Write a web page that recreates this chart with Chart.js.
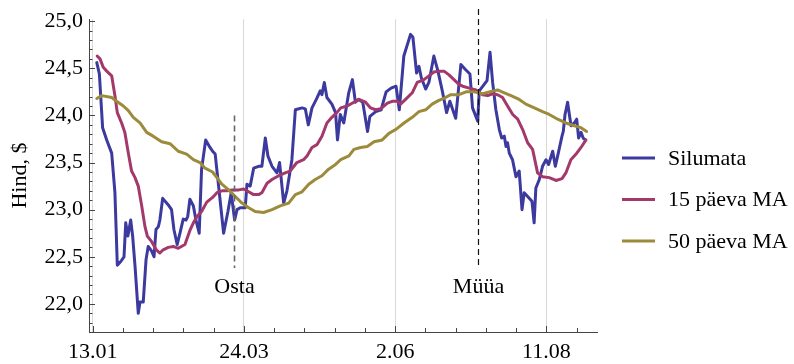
<!DOCTYPE html>
<html>
<head>
<meta charset="utf-8">
<script src="https://cdn.jsdelivr.net/npm/chart.js@4.4.1/dist/chart.umd.min.js"></script>
<style>
  html, body { margin: 0; padding: 0; background: #fff; }
</style>
</head>
<body>
<canvas id="chart" width="794" height="364"></canvas>
<script>
// Päevad alates 13.01 (x) ja hinnad (y), loetud pildilt
const silumataDays = [1.9, 3.1, 4.6, 6.5, 8.8, 10.3, 11.4, 13.0, 14.5, 15.3, 16.3, 17.6, 18.5, 19.6, 21.1, 21.9, 23.4, 24.7, 25.7, 27.3, 28.4, 29.3, 30.4, 31.1, 32.4, 35.0, 36.5, 37.6, 39.1, 40.4, 41.9, 43.2, 44.0, 45.0, 46.6, 47.8, 49.3, 50.4, 52.3, 54.3, 55.5, 56.7, 58.6, 60.6, 62.6, 64.1, 65.7, 66.8, 68.3, 70.6, 71.4, 72.9, 74.5, 76.8, 78.3, 79.9, 81.1, 83.0, 85.3, 86.5, 88.4, 89.9, 92.2, 93.8, 96.9, 98.4, 99.8, 101.5, 103.5, 105.3, 106.1, 107.2, 108.4, 110.7, 112.4, 113.3, 114.6, 116.2, 118.5, 120.2, 121.6, 123.1, 125.0, 127.2, 128.3, 131.0, 133.5, 135.8, 138.1, 140.4, 141.9, 144.0, 147.1, 148.2, 149.9, 151.0, 152.1, 154.1, 155.6, 157.9, 159.8, 161.8, 163.8, 165.3, 168.0, 170.4, 172.4, 174.6, 175.8, 178.2, 178.9, 181.2, 182.5, 183.9, 185.1, 186.6, 188.2, 189.3, 190.5, 191.3, 192.0, 192.8, 194.3, 195.9, 197.4, 198.7, 199.7, 201.3, 203.3, 204.3, 205.1, 206.7, 208.2, 209.8, 211.0, 212.9, 214.1, 215.2, 217.2, 217.8, 218.6, 219.8, 220.6, 221.4, 222.9, 224.0, 224.9, 226.0, 227.0, 228.0];
const silumataValues = [24.56, 24.44, 23.87, 23.74, 23.60, 23.18, 22.41, 22.45, 22.50, 22.86, 22.72, 22.89, 22.72, 22.40, 21.90, 22.02, 22.02, 22.47, 22.61, 22.56, 22.50, 22.79, 22.82, 22.89, 23.12, 23.05, 23.00, 22.79, 22.63, 22.75, 22.90, 22.89, 22.93, 23.11, 23.04, 22.89, 22.75, 23.43, 23.74, 23.66, 23.62, 23.59, 23.18, 22.75, 22.98, 23.18, 22.89, 23.00, 23.02, 23.02, 23.27, 23.25, 23.44, 23.46, 23.46, 23.76, 23.57, 23.46, 23.39, 23.50, 23.07, 23.20, 23.53, 24.06, 24.08, 24.07, 23.90, 24.08, 24.17, 24.26, 24.22, 24.35, 24.19, 24.12, 24.03, 23.74, 24.01, 23.92, 24.24, 24.38, 24.14, 24.17, 24.14, 23.83, 23.99, 24.04, 24.06, 24.25, 24.29, 24.31, 24.06, 24.63, 24.86, 24.83, 24.45, 24.52, 24.40, 24.28, 24.35, 24.63, 24.47, 24.26, 24.03, 24.15, 23.97, 24.54, 24.49, 24.44, 24.08, 23.94, 24.26, 24.33, 24.37, 24.67, 24.35, 24.06, 23.85, 23.76, 23.78, 23.67, 23.71, 23.60, 23.53, 23.35, 23.41, 23.00, 23.18, 23.14, 23.09, 22.86, 23.23, 23.32, 23.46, 23.53, 23.48, 23.62, 23.46, 23.57, 23.78, 23.83, 24.01, 24.14, 24.01, 23.89, 23.92, 23.96, 23.76, 23.82, 23.76, 23.74];

const ma15Days = [2.1, 3.4, 4.9, 6.5, 8.8, 10.3, 11.4, 13.4, 14.9, 16.5, 18.0, 19.6, 21.1, 22.7, 24.2, 25.3, 27.3, 29.6, 31.1, 32.4, 35.0, 37.3, 39.6, 42.7, 45.0, 46.6, 48.4, 50.4, 52.8, 55.5, 57.5, 59.8, 62.1, 64.5, 67.6, 69.9, 72.2, 74.5, 76.8, 78.3, 80.7, 83.0, 86.1, 89.1, 91.4, 94.5, 97.6, 99.2, 101.5, 103.8, 106.1, 108.4, 110.7, 113.0, 114.8, 117.8, 120.9, 123.2, 126.3, 128.6, 130.9, 133.3, 136.4, 138.6, 140.9, 142.5, 144.8, 147.9, 150.2, 153.3, 155.6, 157.9, 160.2, 162.6, 164.9, 167.2, 169.5, 171.2, 174.3, 177.4, 180.5, 182.8, 185.1, 187.4, 189.7, 192.0, 194.4, 196.7, 199.0, 201.3, 203.6, 205.9, 208.2, 211.3, 214.4, 217.2, 219.0, 221.3, 223.7, 226.0, 228.3];
const ma15Values = [24.63, 24.60, 24.51, 24.47, 24.42, 24.21, 24.03, 23.92, 23.82, 23.60, 23.41, 23.34, 23.25, 23.04, 22.82, 22.72, 22.66, 22.57, 22.54, 22.57, 22.60, 22.61, 22.59, 22.63, 22.78, 22.86, 22.93, 22.98, 23.08, 23.13, 23.18, 23.20, 23.20, 23.21, 23.21, 23.22, 23.19, 23.16, 23.16, 23.18, 23.28, 23.32, 23.36, 23.39, 23.41, 23.50, 23.53, 23.57, 23.66, 23.69, 23.78, 23.92, 23.98, 24.03, 24.08, 24.10, 24.14, 24.17, 24.14, 24.08, 24.06, 24.07, 24.13, 24.15, 24.15, 24.12, 24.17, 24.24, 24.35, 24.38, 24.42, 24.46, 24.47, 24.47, 24.43, 24.38, 24.33, 24.31, 24.29, 24.27, 24.22, 24.21, 24.23, 24.22, 24.19, 24.10, 24.01, 23.96, 23.85, 23.71, 23.64, 23.39, 23.35, 23.34, 23.31, 23.33, 23.39, 23.53, 23.59, 23.66, 23.74];

const ma50Days = [1.9, 4.2, 8.8, 11.1, 14.2, 16.5, 18.8, 21.9, 25.0, 28.0, 31.9, 35.8, 39.6, 43.5, 46.6, 49.7, 52.0, 55.5, 57.5, 59.8, 62.9, 66.0, 69.1, 72.2, 75.2, 79.1, 83.0, 86.8, 90.7, 93.8, 96.9, 100.0, 103.0, 106.1, 109.2, 112.4, 114.8, 118.6, 120.9, 124.0, 127.1, 130.2, 134.0, 137.1, 140.2, 144.1, 147.9, 151.0, 154.1, 157.1, 160.2, 163.3, 165.7, 169.5, 172.8, 176.6, 180.5, 183.5, 187.4, 190.5, 193.6, 197.4, 200.5, 204.4, 208.2, 211.3, 215.2, 219.0, 222.9, 226.0, 228.6];
const ma50Values = [24.18, 24.21, 24.19, 24.15, 24.10, 24.05, 23.98, 23.92, 23.82, 23.78, 23.72, 23.70, 23.62, 23.59, 23.53, 23.50, 23.44, 23.40, 23.34, 23.27, 23.21, 23.14, 23.07, 23.02, 22.98, 22.97, 23.00, 23.04, 23.07, 23.16, 23.19, 23.27, 23.32, 23.36, 23.43, 23.48, 23.53, 23.57, 23.64, 23.66, 23.67, 23.72, 23.74, 23.81, 23.85, 23.92, 23.98, 24.04, 24.06, 24.12, 24.16, 24.19, 24.22, 24.22, 24.25, 24.25, 24.23, 24.25, 24.27, 24.24, 24.21, 24.17, 24.12, 24.08, 24.04, 24.01, 23.96, 23.92, 23.89, 23.87, 23.83];

const seriesNames = ['Silumata', '15 päeva MA', '50 päeva MA'];

// Telgede jaotised
const xTickDays = [0, 70, 140, 210];
const xTickLabels = ['13.01', '24.03', '2.06', '11.08'];
const xMinorDays = [0, 14, 28, 42, 56, 70, 84, 98, 112, 126, 140, 154, 168, 182, 196, 210, 224];
const yTickValues = [22.0, 22.5, 23.0, 23.5, 24.0, 24.5, 25.0];
const yMinorValues = [21.8, 21.9, 22.0, 22.1, 22.2, 22.3, 22.4, 22.5, 22.6, 22.7, 22.8, 22.9, 23.0, 23.1, 23.2, 23.3, 23.4, 23.5, 23.6, 23.7, 23.8, 23.9, 24.0, 24.1, 24.2, 24.3, 24.4, 24.5, 24.6, 24.7, 24.8, 24.9, 25.0];

// Ostu/müügi signaalid
const signalDays = [65.2, 178.2];
const signalLabels = ['Osta', 'Müüa'];
const signalTop = [24.0, 25.13];
const signalBottom = [22.38, 22.38];

const BLUE = 'rgb(60, 58, 158)';
const RED = 'rgb(163, 57, 107)';
const GOLD = 'rgb(155, 139, 58)';
const FONT = { family: '"Liberation Serif", "Times New Roman", serif', size: 22 };
const FONT_CSS = '22px "Liberation Serif", "Times New Roman", serif';

function toPoints(days, values) {
    return days.map((d, i) => ({ x: d, y: values[i] }));
}

const overlay = {
    id: 'overlay',
    beforeDatasetsDraw(chart) {
        const { ctx, scales: { x, y } } = chart;
        ctx.save();
        ctx.strokeStyle = '#444';
        ctx.lineWidth = 1;
        // sissepoole suunatud jaotised
        for (const d of xMinorDays) {
            const px = Math.round(x.getPixelForValue(d)) + 0.5;
            const len = xTickDays.includes(d) ? 6 : 4;
            ctx.beginPath();
            ctx.moveTo(px, y.bottom);
            ctx.lineTo(px, y.bottom - len);
            ctx.stroke();
        }
        for (const v of yMinorValues) {
            const py = Math.round(y.getPixelForValue(v)) + 0.5;
            const major = Math.abs(v * 2 - Math.round(v * 2)) < 1e-6;
            ctx.beginPath();
            ctx.moveTo(x.left, py);
            ctx.lineTo(x.left + (major ? 6 : 3.5), py);
            ctx.stroke();
        }
        ctx.restore();
    },
    afterDatasetsDraw(chart) {
        const { ctx, scales: { x, y } } = chart;
        ctx.save();
        signalDays.forEach((d, i) => {
            const px = Math.round(x.getPixelForValue(d)) + 0.5;
            ctx.beginPath();
            ctx.setLineDash([6, 4]);
            ctx.strokeStyle = i === 0 ? '#666' : '#111';
            ctx.lineWidth = i === 0 ? 1.6 : 1.2;
            ctx.moveTo(px, y.getPixelForValue(signalTop[i]));
            ctx.lineTo(px, y.getPixelForValue(signalBottom[i]));
            ctx.stroke();
            ctx.setLineDash([]);
            ctx.fillStyle = '#000';
            ctx.font = FONT_CSS;
            ctx.textAlign = 'center';
            ctx.textBaseline = 'middle';
            ctx.fillText(signalLabels[i], px, y.getPixelForValue(signalBottom[i]) + 19);
        });

        // legend paremal
        const colors = [BLUE, RED, GOLD];
        const lx = x.right + 25;
        const top = 158;
        ctx.font = FONT_CSS;
        ctx.textAlign = 'left';
        ctx.textBaseline = 'middle';
        seriesNames.forEach((name, i) => {
            const ly = top + i * 41.5;
            ctx.strokeStyle = colors[i];
            ctx.lineWidth = 3;
            ctx.beginPath();
            ctx.moveTo(lx, ly);
            ctx.lineTo(lx + 33, ly);
            ctx.stroke();
            ctx.fillStyle = '#000';
            ctx.fillText(name, lx + 46, ly + 1);
        });
        ctx.restore();
    }
};

new Chart(document.getElementById('chart'), {
    type: 'line',
    data: {
        datasets: [
            { label: seriesNames[0], data: toPoints(silumataDays, silumataValues), borderColor: BLUE, borderWidth: 3, order: 2 },
            { label: seriesNames[1], data: toPoints(ma15Days, ma15Values), borderColor: RED, borderWidth: 3, order: 1 },
            { label: seriesNames[2], data: toPoints(ma50Days, ma50Values), borderColor: GOLD, borderWidth: 3, order: 0 },
        ],
    },
    options: {
        responsive: false,
        animation: false,
        events: [],
        elements: {
            point: { radius: 0 },
            line: { tension: 0, borderJoinStyle: 'round', borderCapStyle: 'round' },
        },
        layout: { padding: { top: 12, right: 197, bottom: 0, left: 0 } },
        plugins: { legend: { display: false }, tooltip: { enabled: false } },
        scales: {
            x: {
                type: 'linear',
                min: -1.7,
                max: 233.4,
                afterBuildTicks: (s) => { s.ticks = xTickDays.map((v) => ({ value: v })); },
                afterFit: (s) => { s.height = 32; },
                ticks: {
                    color: '#000',
                    font: FONT,
                    padding: 7,
                    maxRotation: 0,
                    autoSkip: false,
                    callback: (v) => xTickLabels[xTickDays.indexOf(v)],
                },
                grid: { color: '#d8d8d8', lineWidth: 1, drawTicks: false },
                border: { color: '#444', width: 1 },
            },
            y: {
                min: 21.702,
                max: 25.021,
                afterBuildTicks: (s) => { s.ticks = yTickValues.map((v) => ({ value: v })); },
                afterFit: (s) => { s.width = 89; },
                ticks: {
                    color: '#000',
                    font: FONT,
                    padding: 6,
                    callback: (v) => v.toFixed(1).replace('.', ','),
                },
                grid: { display: false, drawTicks: false },
                border: { color: '#444', width: 1 },
                title: { display: true, text: 'Hind, $', color: '#000', font: FONT, padding: { top: 7, bottom: 0 } },
            },
        },
    },
    plugins: [overlay],
});
</script>
</body>
</html>
